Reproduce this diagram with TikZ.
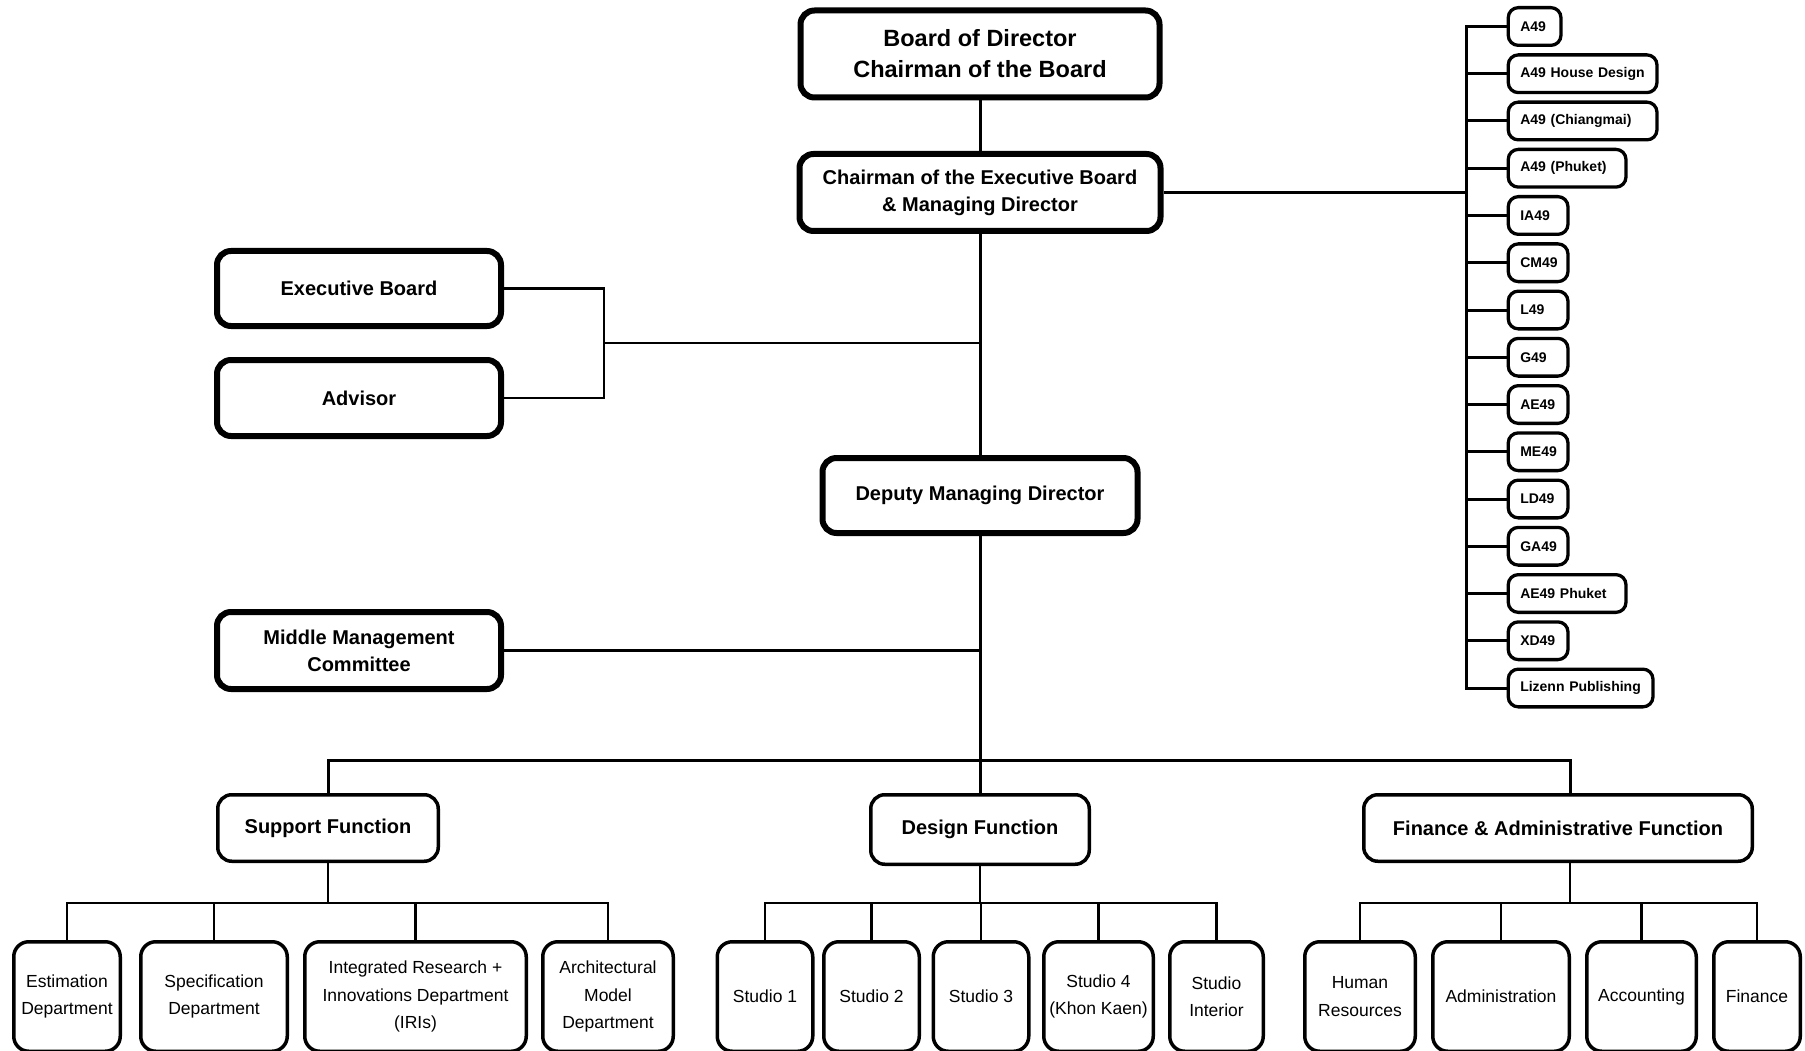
\documentclass[tikz,border=0pt]{standalone}
\usepackage{fontspec}
\setmainfont{Liberation Sans}

\begin{document}
\begin{tikzpicture}[x=1pt, y=-1pt,
  topbox/.style={draw, line width=6pt, rounded corners=14pt, align=center, inner sep=0pt, font=\bfseries\fontsize{20}{27}\selectfont},
  funcbox/.style={draw, line width=3.5pt, rounded corners=14pt, align=center, inner sep=0pt, font=\bfseries\fontsize{20}{27}\selectfont},
  deptbox/.style={draw, line width=3.5pt, rounded corners=15pt, align=center, inner sep=0pt, minimum height=109.5pt, font=\fontsize{17.5}{27.5}\selectfont},
  subco/.style={draw, line width=3.3pt, rounded corners=10pt, anchor=west, align=left, inner xsep=12pt, inner ysep=0pt, minimum height=37.7pt, text width=#1, font=\bfseries\fontsize{14}{17}\selectfont, execute at begin node={\hyphenpenalty=10000\relax}},
  link/.style={line width=3pt},
  sublink/.style={line width=2.5pt}]
\useasboundingbox (0,0) rectangle (1805,1051);
\clip (0,0) rectangle (1805,1051);

% top of the chart
\node[topbox, minimum width=359pt, minimum height=87pt, font=\bfseries\fontsize{23.5}{31}\selectfont] (bod) at (980,54) {Board of Director\\Chairman of the Board};
\node[topbox, minimum width=361pt, minimum height=77pt] (ceo) at (980,192.5) {Chairman of the Executive Board\\\& Managing Director};
\draw[link] (bod) -- (ceo);
\node[topbox, minimum width=284pt, minimum height=75pt] (exb) at (359,288.5) {Executive Board};
\node[topbox, minimum width=284pt, minimum height=76pt] (adv) at (359,398) {Advisor};
\node[topbox, minimum width=315pt, minimum height=75pt] (dmd) at (980,495.5) {Deputy Managing Director};
\node[topbox, minimum width=284pt, minimum height=77pt] (mmc) at (359,650.5) {Middle Management\\Committee};
\draw[link] (ceo) -- (dmd);
\coordinate (exfork) at (604,343);
\draw[sublink] (exb) -| (exfork) |- (adv);
\draw[sublink] (exfork) -- (exfork -| dmd);
\draw[sublink] (mmc) -- (mmc -| dmd);

% subsidiaries
\node[subco=28.7pt] (sub1) at (1506.6,26.5) {A49};
\node[subco=124.7pt] (sub2) at (1506.6,73.75) {A49 House Design};
\node[subco=124.7pt] (sub3) at (1506.6,121) {A49 (Chiangmai)};
\node[subco=93.7pt] (sub4) at (1506.6,168.25) {A49 (Phuket)};
\node[subco=35.7pt] (sub5) at (1506.6,215.5) {IA49};
\node[subco=35.7pt] (sub6) at (1506.6,262.75) {CM49};
\node[subco=35.7pt] (sub7) at (1506.6,310) {L49};
\node[subco=35.7pt] (sub8) at (1506.6,357.25) {G49};
\node[subco=35.7pt] (sub9) at (1506.6,404.5) {AE49};
\node[subco=35.7pt] (sub10) at (1506.6,451.75) {ME49};
\node[subco=35.7pt] (sub11) at (1506.6,499) {LD49};
\node[subco=35.7pt] (sub12) at (1506.6,546.25) {GA49};
\node[subco=93.7pt] (sub13) at (1506.6,593.5) {AE49 Phuket};
\node[subco=35.7pt] (sub14) at (1506.6,640.75) {XD49};
\node[subco=120.7pt] (sub15) at (1506.6,688) {Lizenn Publishing};
\coordinate (cofork) at (1466,192.5);
\draw[link] (ceo) -- (cofork);
\draw[link] (sub1) -| (cofork) |- (sub15);
\draw[link] (sub2) -- (sub2 -| cofork);
\draw[link] (sub3) -- (sub3 -| cofork);
\draw[link] (sub4) -- (sub4 -| cofork);
\draw[link] (sub5) -- (sub5 -| cofork);
\draw[link] (sub6) -- (sub6 -| cofork);
\draw[link] (sub7) -- (sub7 -| cofork);
\draw[link] (sub8) -- (sub8 -| cofork);
\draw[link] (sub9) -- (sub9 -| cofork);
\draw[link] (sub10) -- (sub10 -| cofork);
\draw[link] (sub11) -- (sub11 -| cofork);
\draw[link] (sub12) -- (sub12 -| cofork);
\draw[link] (sub13) -- (sub13 -| cofork);
\draw[link] (sub14) -- (sub14 -| cofork);

% functions
\node[funcbox, minimum width=220.5pt, minimum height=66.5pt] (sup) at (328,828) {Support Function};
\node[funcbox, minimum width=218.5pt, minimum height=69.5pt] (des) at (980,829.5) {Design Function};
\node[funcbox, minimum width=388.5pt, minimum height=66.5pt] (fin) at (1558,828) {Finance \& Administrative Function};
\coordinate (bus) at (980,760);
\draw[link] (dmd) -- (bus);
\draw[link] (sup) |- (bus) -| ([xshift=12pt]fin.north);
\draw[link] (bus) -- (des);

% support departments
\node[deptbox, minimum width=106.5pt] (est) at (67,996.5) {Estimation\\Department};
\node[deptbox, minimum width=146.5pt] (spe) at (214,996.5) {Specification\\Department};
\node[deptbox, minimum width=221.5pt] (iri) at (415.5,996.5) {Integrated Research +\\Innovations Department\\(IRIs)};
\node[deptbox, minimum width=130.5pt] (arc) at (608,996.5) {Architectural\\Model\\Department};
\coordinate (supfork) at (328,903);
\draw[sublink] (sup) -- (supfork);
\draw[sublink] (est) |- (supfork) -| (arc);
\draw[sublink] (spe) -- (spe |- supfork);
\draw[sublink] (iri) -- (iri |- supfork);

% design studios
\node[deptbox, minimum width=95.5pt] (st1) at (765,996.5) {Studio 1};
\node[deptbox, minimum width=95.5pt] (st2) at (871.5,996.5) {Studio 2};
\node[deptbox, minimum width=95.5pt] (st3) at (981,996.5) {Studio 3};
\node[deptbox, minimum width=109.5pt] (st4) at (1098.5,996.5) {Studio 4\\(Khon Kaen)};
\node[deptbox, minimum width=93.5pt] (st5) at (1216.5,996.5) {Studio\\Interior};
\coordinate (desfork) at (980,903);
\draw[sublink] (des) -- (desfork);
\draw[sublink] (st1) |- (desfork) -| (st5);
\draw[sublink] (st2) -- (st2 |- desfork);
\draw[sublink] (st3) -- (st3 |- desfork);
\draw[sublink] (st4) -- (st4 |- desfork);

% finance and administration
\node[deptbox, minimum width=110.5pt] (hr) at (1360,996.5) {Human\\Resources};
\node[deptbox, minimum width=136.5pt] (adm) at (1501,996.5) {Administration};
\node[deptbox, minimum width=109.5pt] (acc) at (1641.5,996.5) {Accounting};
\node[deptbox, minimum width=86.5pt] (fna) at (1757,996.5) {Finance};
\coordinate (finfork) at (1570,903);
\draw[sublink] ([xshift=12pt]fin.south) -- (finfork);
\draw[sublink] (hr) |- (finfork) -| (fna);
\draw[sublink] (adm) -- (adm |- finfork);
\draw[sublink] (acc) -- (acc |- finfork);
\end{tikzpicture}
\end{document}
